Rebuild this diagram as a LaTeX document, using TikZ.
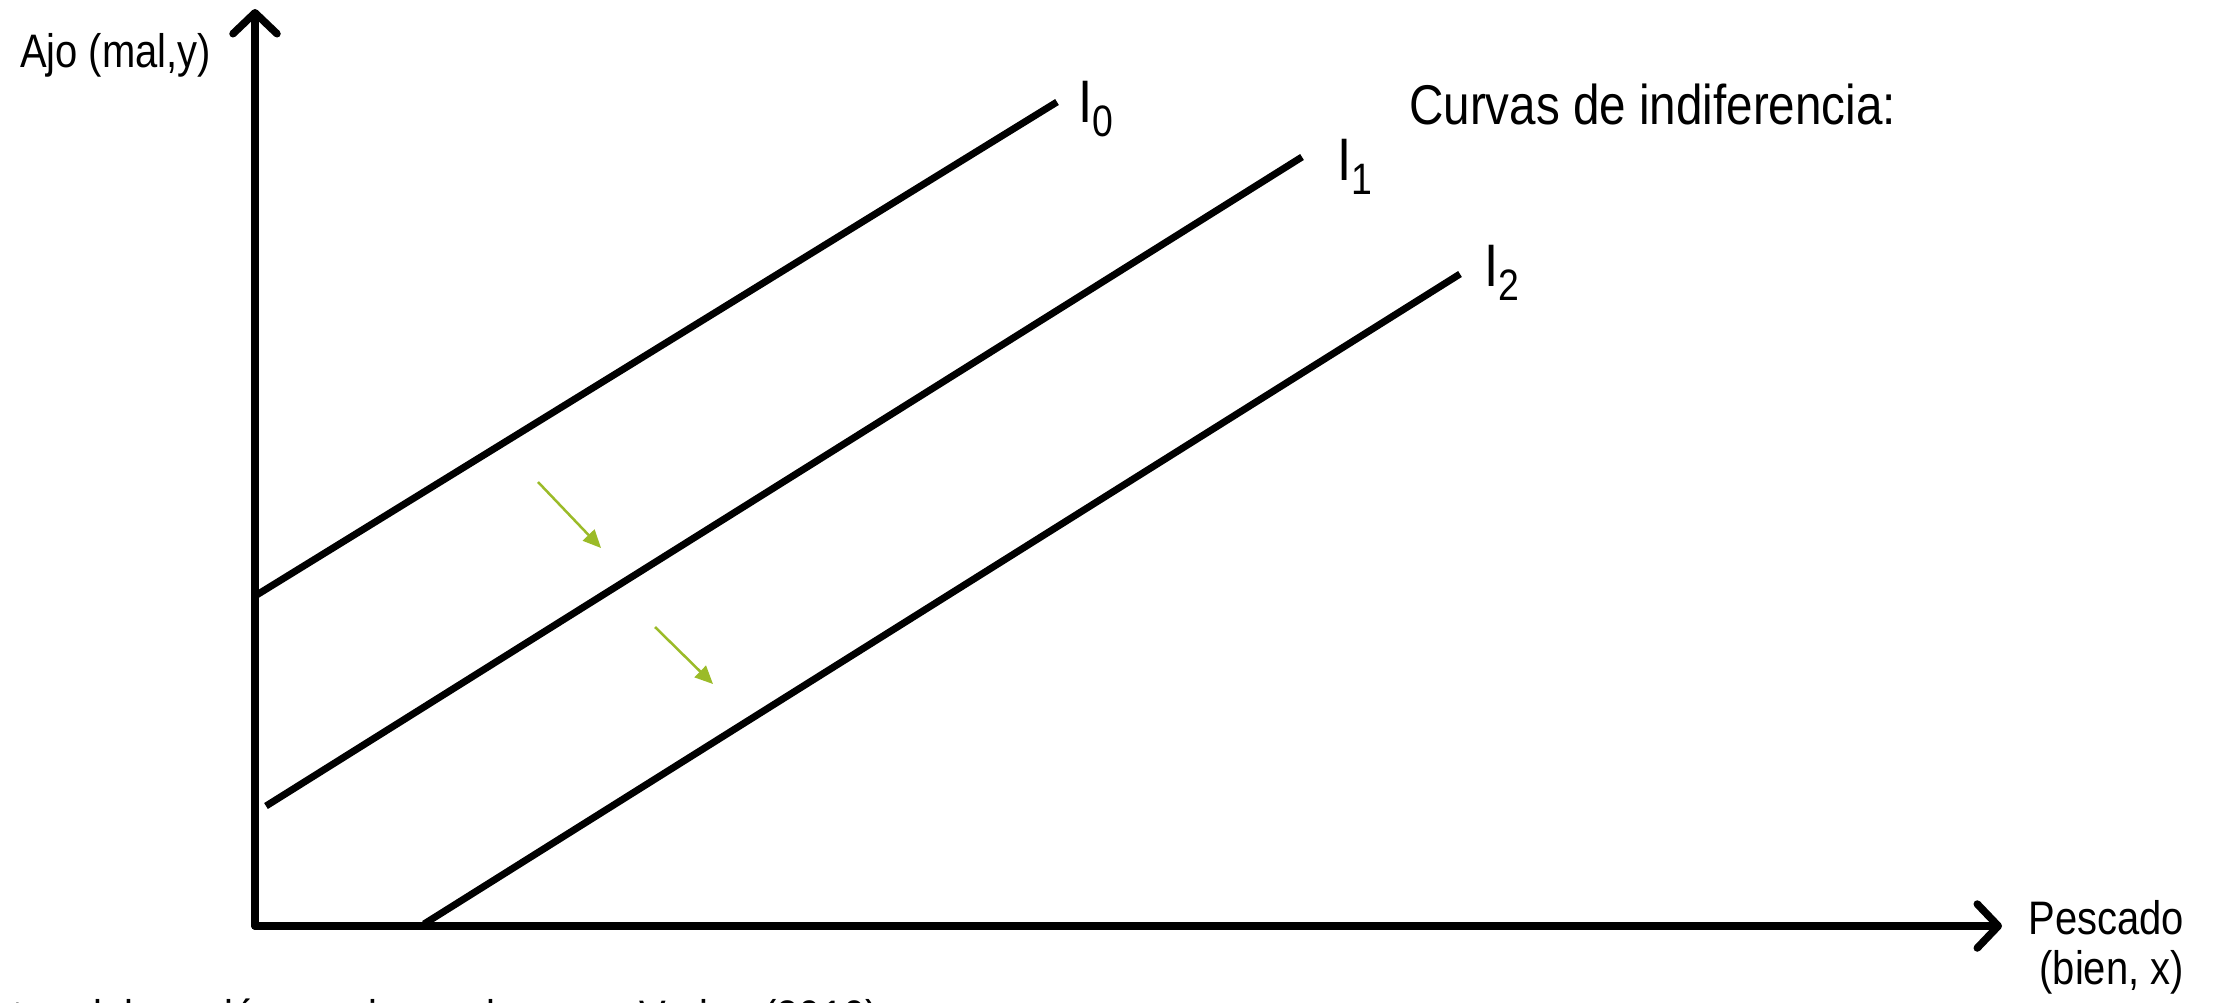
\documentclass[tikz,border=0pt]{standalone}
\usepackage{fontspec}
\setmainfont{Liberation Sans}[FakeStretch=0.85]
\usetikzlibrary{arrows.meta}
\definecolor{arrowgreen}{RGB}{155,187,40}
\tikzset{
  axis/.style={line width=7.5pt, line cap=round, -{Straight Barb[length=21pt,width=44pt,line cap=round,line join=round]}},
  icurve/.style={line width=7pt},
  greenarrow/.style={arrowgreen, line width=2.5pt, -{Triangle[length=18pt,width=16pt]}},
  lbl/.style={inner sep=0pt, font=\fontsize{47}{57}\selectfont},
  ilbl/.style={inner sep=0pt, anchor=base west, font=\fontsize{60}{60}\selectfont},
}
\newcommand{\ilab}[1]{I\raisebox{-14pt}{\fontsize{44}{44}\selectfont #1}}
\begin{document}
\begin{tikzpicture}[x=1pt,y=-1pt]
\useasboundingbox[fill=white] (0,0) rectangle (2216,1002);
% axes
\coordinate (O) at (255,926);
\coordinate (ytip) at (255,9);
\coordinate (xtip) at (2002,926);
\draw[axis] (255,926) -- (ytip);
\draw[axis] (O) -- (xtip);
% indifference curves
\coordinate (i0a) at (255,596);
\coordinate (i0b) at (1057,102);
\coordinate (i1a) at (266,806);
\coordinate (i1b) at (1302,157);
\coordinate (i2a) at (424,924);
\coordinate (i2b) at (1460,274);
\draw[icurve] (i0a) -- (i0b);
\draw[icurve] (i1a) -- (i1b);
\draw[icurve] (i2a) -- (i2b);
% green arrows
\coordinate (g1a) at (538,482);
\coordinate (g1b) at (601,548);
\coordinate (g2a) at (655,627);
\coordinate (g2b) at (713,684);
\draw[greenarrow] (g1a) -- (g1b);
\draw[greenarrow] (g2a) -- (g2b);
% labels
\node[ilbl] (l0) at (1078,122) {\ilab{0}};
\node[ilbl] (l1) at (1337,180) {\ilab{1}};
\node[ilbl] (l2) at (1484,286) {\ilab{2}};
\node[inner sep=0pt, anchor=base west, font=\fontsize{56}{60}\selectfont] (title) at (1409,124) {Curvas de indiferencia:};
\node[lbl, anchor=base west] (ylab) at (20,67) {Ajo (mal,y)};
\node[lbl, anchor=base east] (xlab1) at (2184,934) {Pescado};
\node[lbl, anchor=base east] (xlab2) at (2184,984) {(bien, x)};
\node[lbl, anchor=base west] (src) at (12,1033) {te: elaboración propia con base en Varian (2010)};
\end{tikzpicture}
\end{document}
